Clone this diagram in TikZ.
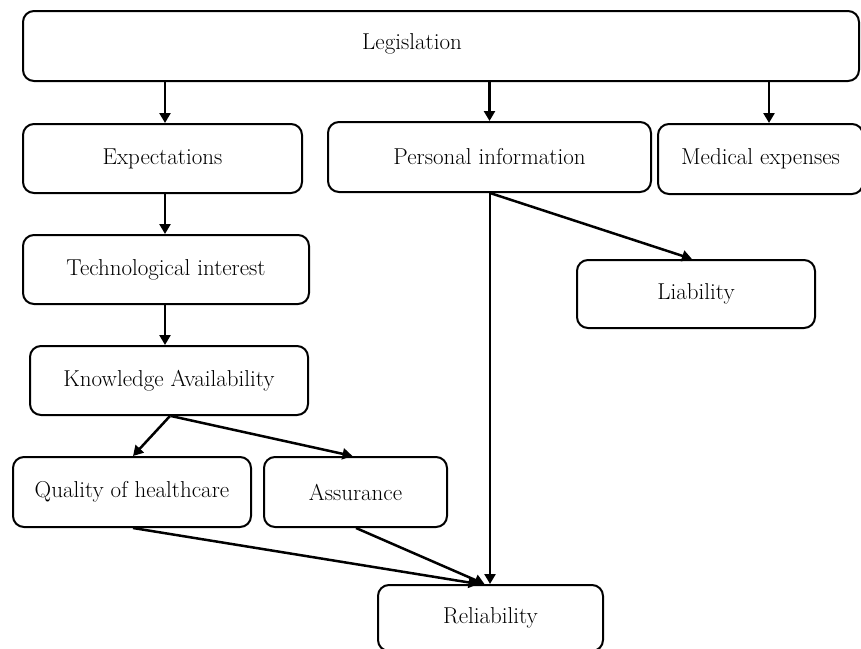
\documentclass[tikz,border=0pt]{standalone}
\usetikzlibrary{arrows.meta}
\begin{document}
\begin{tikzpicture}[x=1pt,y=-1pt,
  box/.style={draw, line width=2pt, rounded corners=11pt, inner sep=0pt, font=\fontsize{23}{27}\selectfont},
  arr/.style={line width=2.5pt, -{Triangle[length=10pt,width=11pt]}},
  lbl/.style={inner sep=0pt, font=\fontsize{23}{27}\selectfont}]
\useasboundingbox (0,0) rectangle (861,648);
\node[box, minimum width=836pt, minimum height=70pt] (leg) at (441,46) {};
\node[lbl] (legt) at (412,44) {Legislation};
\node[box, minimum width=279pt, minimum height=69pt] (exp) at (162.5,158.5) {Expectations};
\node[box, minimum width=323pt, minimum height=70pt] (pi) at (489.5,157) {Personal information};
\node[box, minimum width=205pt, minimum height=70pt] (med) at (760.5,159) {Medical expenses};
\node[box, minimum width=286pt, minimum height=69pt] (tech) at (166,269.5) {Technological interest};
\node[box, minimum width=238pt, minimum height=68pt] (liab) at (696,294) {Liability};
\node[box, minimum width=278pt, minimum height=69pt] (know) at (169,380.5) {Knowledge Availability};
\node[box, minimum width=238pt, minimum height=70pt] (qual) at (132,492) {Quality of healthcare};
\node[box, minimum width=183pt, minimum height=70pt] (assur) at (355.5,492) {Assurance};
\node[box, minimum width=225pt, minimum height=66pt] (rel) at (490.5,618) {Reliability};
\draw[arr] ([xshift=2.5]exp.north |- leg.south) -- ([xshift=2.5]exp.north);
\draw[arr] (pi.north |- leg.south) -- (pi.north);
\draw[arr] ([xshift=8.5]med.north |- leg.south) -- ([xshift=8.5]med.north);
\draw[arr] ([xshift=2.5]exp.south) -- ([xshift=-1]tech.north);
\draw[arr] ([xshift=-1]tech.south) -- ([xshift=-4]know.north);
\draw[arr] ([xshift=1]know.south) -- ([xshift=1]qual.north);
\draw[arr] ([xshift=2]know.south) -- ([xshift=-3]assur.north);
\draw[arr] ([xshift=0.5]pi.south) -- ([xshift=-4]liab.north);
\draw[arr] ([xshift=0.5]pi.south) -- ([xshift=-0.5]rel.north);
\draw[arr] ([xshift=1]qual.south) -- ([xshift=-12]rel.north);
\draw[arr] ([xshift=0.5]assur.south) -- ([xshift=-6]rel.north);
\end{tikzpicture}
\end{document}
